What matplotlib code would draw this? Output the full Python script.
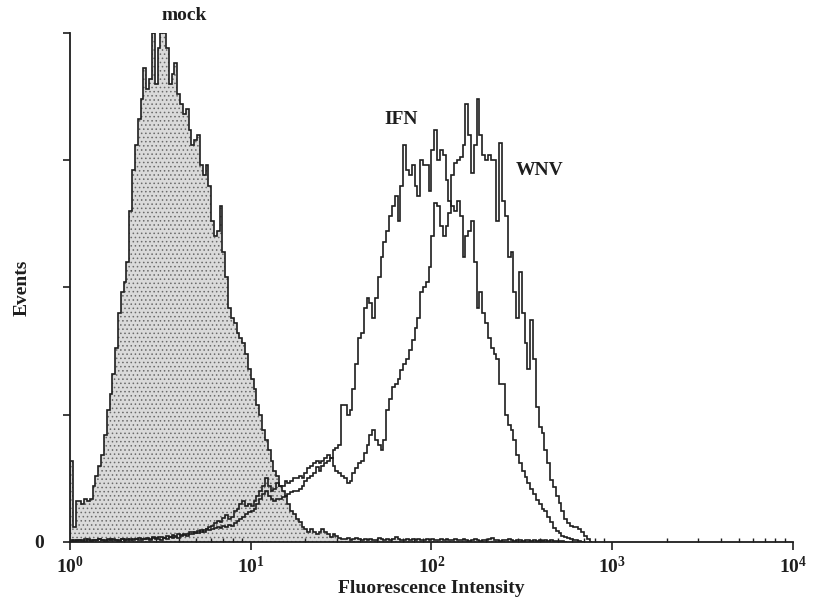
import numpy as np
import matplotlib
matplotlib.use('Agg')
import matplotlib.pyplot as plt
from matplotlib.ticker import FixedLocator, FixedFormatter, LogLocator, NullFormatter

plt.rcParams['font.family'] = 'Liberation Serif'
plt.rcParams['mathtext.fontset'] = 'custom'
plt.rcParams['mathtext.bf'] = 'Liberation Serif:bold'
plt.rcParams['mathtext.rm'] = 'Liberation Serif:bold'
plt.rcParams['hatch.linewidth'] = 0.6

# 64 channels per decade, 4 decades; counts as % of the tallest channel
channels_per_decade = 64

mock = [16, 3, 8, 8, 7.5, 8.5, 8, 8.5, 11, 13,
        15, 17, 21, 26, 29, 33, 38, 45, 49, 51,
        55, 65, 73, 78, 83, 87, 93, 89, 91, 100,
        90, 97, 100, 100, 97, 90, 92, 94, 88, 86,
        84, 85, 81, 78, 79, 80, 74, 72, 74, 70,
        63, 60, 61, 66, 57, 52, 46, 44, 43, 41,
        40, 39, 37, 34, 32, 30, 27, 25, 22, 20,
        18, 16, 14, 13, 11, 10, 9, 7.5, 6, 5.5,
        4.5, 4, 3, 2.5, 2, 2.5, 2, 1.5, 2, 2.5,
        2, 1.5, 1, 1.5, 1.2, 0.8, 0.6, 0.5, 0.7, 0.4,
        0.5, 0.8, 0.6, 0.4, 0.5, 0.3, 0.6, 0.4, 0.3, 0.7,
        0.5, 0.4, 0.6, 0.3, 0.5, 0.9, 0.6, 0.4, 0.3, 0.5,
        0.4, 0.6, 0.3, 0.5, 0.4, 0.3, 0.6, 0.4, 0.5, 0.3,
        0.4, 0.5, 0.3, 0.6, 0.4, 0.3, 0.5, 0.3, 0.4, 0.6,
        0.3, 0.2, 0.4, 0.5, 0.3, 0.2, 0.4, 0.3, 0.5, 0.8,
        0.4, 0.3, 0.2, 0.4, 0.3, 0.5, 0.3, 0.2, 0.4, 0.3,
        0.2, 0.3, 0.4, 0.2, 0.3, 0.2, 0.3, 0.2, 0.4, 0.2,
        0.3, 0.2, 0.1, 0.2, 0.1, 0]

ifn = [0.3, 0.2, 0.4, 0.3, 0.2, 0.5, 0.3, 0.2, 0.4, 0.3,
       0.5, 0.3, 0.2, 0.4, 0.6, 0.3, 0.4, 0.2, 0.5, 0.3,
       0.4, 0.6, 0.3, 0.5, 0.4, 0.3, 0.6, 0.5, 0.4, 0.7,
       0.5, 0.6, 0.4, 0.8, 0.6, 0.9, 0.7, 1.0, 0.8, 1.2,
       1.3, 1.1, 1.6, 1.5, 2.0, 1.8, 2.4, 2.0, 2.6, 3.0,
       3.2, 3.8, 4.2, 4.0, 4.8, 5.2, 4.6, 5.0, 6.0, 6.5,
       7.5, 8, 7, 7.5, 7, 8, 9, 10, 11, 12.5,
       11, 10, 10.5, 11.5, 11, 11, 12, 11.5, 12, 12.5,
       12.5, 13, 12.5, 13.5, 14.5, 15, 15.5, 16, 15.5, 16,
       16.5, 17, 16.5, 18, 18.5, 19, 27, 27, 25, 26,
       30, 35, 40, 41, 46, 48, 47, 44, 48, 52,
       56, 59, 61, 64, 66, 68, 63, 70, 78, 73,
       72, 74, 70, 68, 75, 74, 74, 69, 77, 81,
       75, 77, 76, 71, 67, 66, 65, 67, 64, 56,
       60, 61, 63, 55, 46, 49, 45, 43, 40, 38,
       37, 36, 31, 31, 25, 23, 22, 20, 17, 15.5,
       14, 12.8, 11.6, 10.5, 9.5, 8.3, 7.5, 6.5, 6, 5,
       4, 2.8, 2.2, 1.8, 1.2, 1, 0.7, 0.5, 0.4, 0.3,
       0.2, 0]

wnv = [0.2, 0.3, 0.2, 0.4, 0.3, 0.2, 0.5, 0.3, 0.4, 0.3,
       0.5, 0.4, 0.3, 0.6, 0.4, 0.5, 0.4, 0.3, 0.6, 0.4,
       0.5, 0.4, 0.6, 0.5, 0.8, 0.6, 0.5, 0.8, 0.6, 0.9,
       0.7, 0.9, 1.0, 0.8, 1.1, 1.0, 1.3, 1.2, 1.5, 1.4,
       1.6, 1.5, 1.9, 2.0, 1.8, 2.2, 2.0, 2.4, 2.5, 2.3,
       2.6, 2.8, 3.0, 2.7, 3.2, 3.0, 3.4, 3.1, 3.8, 4.2,
       4.6, 5.0, 5.4, 5.8, 6.0, 6.5, 7.5, 8.5, 9.5, 10,
       9, 8.5, 8, 8.5, 8.4, 8.8, 9, 9.5, 9.8, 10,
       10, 10.5, 11, 12, 12.5, 13, 13.5, 14.7, 14, 15,
       15.5, 16, 16.5, 15, 14, 13.5, 13, 12.5, 11.6, 12,
       13.5, 14.5, 15.5, 16, 17.5, 19, 21, 22, 20, 19,
       18, 20, 26, 28, 30.5, 31, 32, 33.8, 35, 36,
       37.7, 39.7, 42, 44, 49, 50, 51, 54, 60, 66.6,
       66, 62, 60, 62, 64.6, 72, 74.5, 75, 75.6, 78,
       86, 80, 72.5, 78, 87, 80, 76, 75, 76, 75,
       75, 63, 78.4, 67, 64, 56, 57, 49, 44, 53,
       45, 39, 34, 43.6, 36, 26.5, 22.6, 21.4, 18, 15.5,
       12.2, 10.8, 9, 7.7, 6, 4.5, 3.7, 3.2, 2.9, 2.9,
       2.6, 2, 1.2, 0.6, 0]

xtick_labels = [r'$\mathbf{10^{0}}$', r'$\mathbf{10^{1}}$', r'$\mathbf{10^{2}}$',
                r'$\mathbf{10^{3}}$', r'$\mathbf{10^{4}}$']


def edges_for(vals):
    return 10 ** (np.arange(len(vals) + 1) / channels_per_decade)


fig = plt.figure(figsize=(8.15, 5.99), dpi=100)
ax = fig.add_axes([0.0859, 0.0952, 0.887, 0.85])

line_col = '#1e1e1e'
ax.stairs(mock, edges_for(mock), fill=True, facecolor='#dadada',
          edgecolor='#6a6a6a', hatch='....', linewidth=0, baseline=0)
ax.stairs(mock, edges_for(mock), color=line_col, linewidth=1.2, baseline=0)
ax.stairs(ifn, edges_for(ifn), color=line_col, linewidth=1.2, baseline=0)
ax.stairs(wnv, edges_for(wnv), color=line_col, linewidth=1.2, baseline=0)

ax.set_xscale('log')
ax.set_xlim(1, 1e4)
ax.set_ylim(0, 100)

ax.xaxis.set_major_locator(FixedLocator([1, 10, 100, 1000, 10000]))
ax.xaxis.set_major_formatter(FixedFormatter(xtick_labels))
ax.xaxis.set_minor_locator(LogLocator(base=10, subs=np.arange(2, 10), numticks=20))
ax.xaxis.set_minor_formatter(NullFormatter())
ax.yaxis.set_major_locator(FixedLocator([0, 25, 50, 75, 100]))
ax.yaxis.set_major_formatter(FixedFormatter(['0', '', '', '', '']))

ax.tick_params(axis='x', which='major', direction='out', length=6, width=1.2,
               labelsize=14, pad=4, colors=line_col)
ax.tick_params(axis='x', which='minor', direction='in', length=3, width=1.0,
               colors=line_col)
ax.tick_params(axis='y', which='major', direction='out', length=5, width=1.2,
               labelsize=14, pad=14, colors=line_col)
for lab in ax.get_yticklabels():
    lab.set_fontweight('bold')

for side in ['top', 'right']:
    ax.spines[side].set_visible(False)
for side in ['left', 'bottom']:
    ax.spines[side].set_linewidth(1.3)
    ax.spines[side].set_color(line_col)

ax.set_xlabel('Fluorescence Intensity', fontsize=14, fontweight='bold',
              color=line_col, labelpad=2)
ax.set_ylabel('Events', fontsize=14, fontweight='bold', color=line_col,
              labelpad=2)

ax.text(4.3, 103.5, 'mock', fontsize=14, fontweight='bold', ha='center',
        va='center', color=line_col, clip_on=False)
ax.text(68, 83, 'IFN', fontsize=14, fontweight='bold', ha='center',
        va='center', color=line_col)
ax.text(395, 73, 'WNV', fontsize=14, fontweight='bold', ha='center',
        va='center', color=line_col)

fig.savefig('out.png', dpi=100)
